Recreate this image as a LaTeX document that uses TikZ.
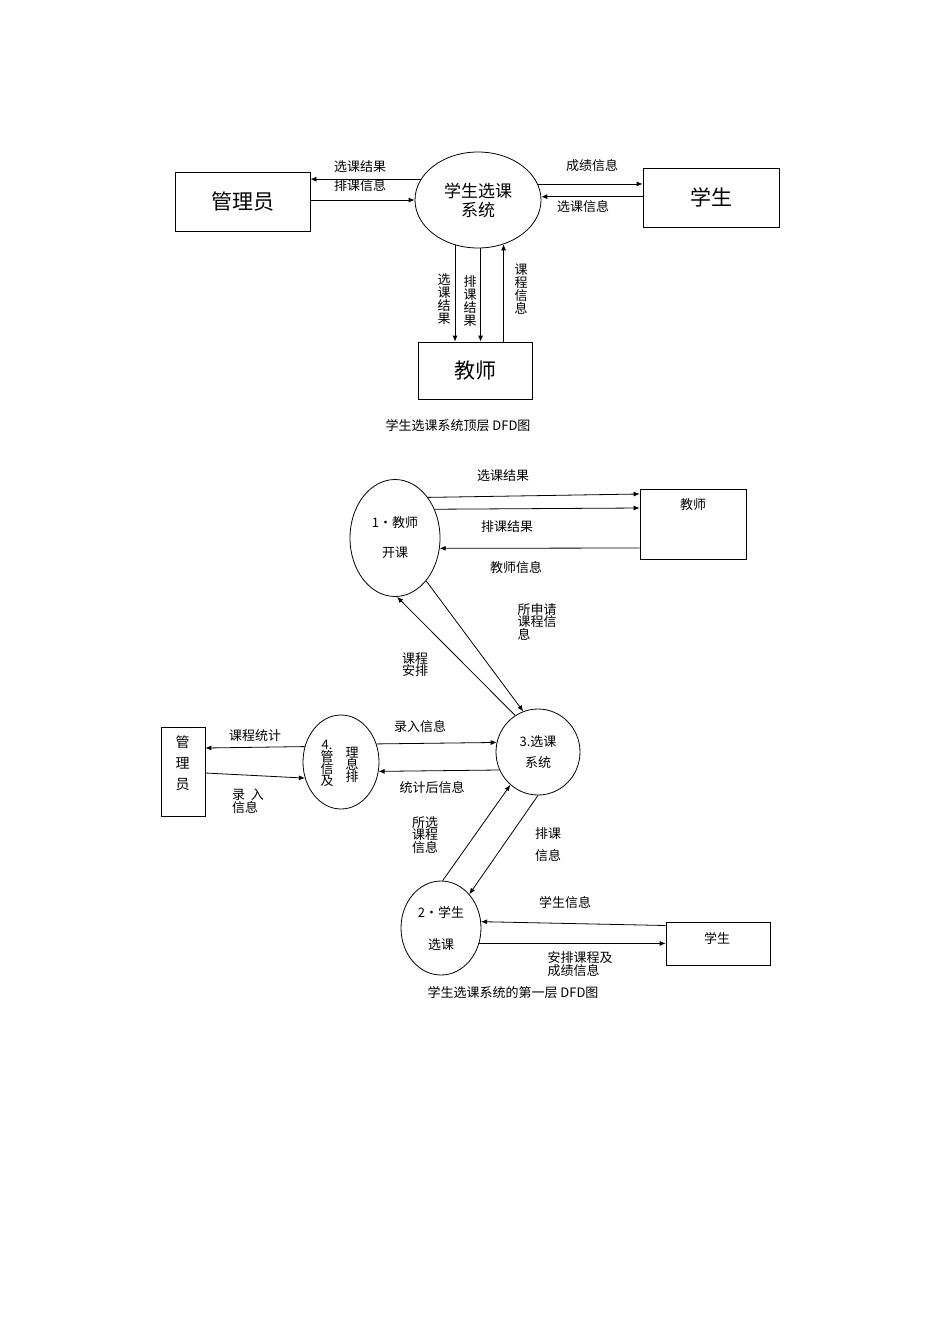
\documentclass[tikz,border=0pt]{standalone}
\usepackage{fontspec}
\setmainfont{Noto Sans CJK SC}
\usetikzlibrary{arrows.meta,shapes.geometric}
\begin{document}
\begin{tikzpicture}[x=1pt,y=-1pt,
  box/.style={draw,line width=0.8pt,inner sep=0pt},
  proc/.style={draw,ellipse,line width=0.8pt,inner sep=0pt},
  fl/.style={line width=0.8pt,-{Latex[length=6pt,width=5pt]}},
  lb/.style={font=\fontsize{13}{14}\selectfont,inner sep=0pt},
  vl/.style={font=\fontsize{13}{13}\selectfont,inner sep=0pt,align=center,text width=13pt}]
\useasboundingbox (0,0) rectangle (950,1344);
% ---- top level
\node[box,minimum width=135pt,minimum height=59pt] (gly) at (242.5,201.5) {\fontsize{21}{22}\selectfont 管理员};
\node[proc,minimum width=126pt,minimum height=96pt,align=center,font=\fontsize{17}{19}\selectfont] (sys) at (478,200) {学生选课\\系统};
\node[box,minimum width=136pt,minimum height=59pt] (stu) at (711,197.5) {\fontsize{21}{22}\selectfont 学生};
\node[box,minimum width=114pt,minimum height=57pt] (tea) at (475,370.5) {\fontsize{21}{22}\selectfont 教师};
\draw[fl] (sys.160) -- (sys.160 -| gly.east);
\draw[fl] (gly.east |- sys.180) -- (sys.180);
\draw[fl] (sys.15) -- (sys.15 -| stu.west);
\draw[fl] (stu.west |- sys.3) -- (sys.3);
\draw[fl] (sys.-117) -- (sys.-117 |- tea.north);
\draw[fl] (sys.-87) -- (sys.-87 |- tea.north);
\draw[fl] (tea.north -| sys.-60) -- (sys.-60);
\node[lb] (l1) at (360,167) {选课结果};
\node[lb] (l2) at (360,186) {排课信息};
\node[lb] (l3) at (592,166) {成绩信息};
\node[lb] (l4) at (583,207) {选课信息};
\node[vl] (l5) at (444,299) {选\\课\\结\\果};
\node[vl] (l6) at (470,301) {排\\课\\结\\果};
\node[vl] (l7) at (521,289) {课\\程\\信\\息};
\node[lb] (cap1) at (458,426) {学生选课系统顶层 DFD图};
% ---- first level
\node[proc,minimum width=90pt,minimum height=117pt,align=center,font=\fontsize{13}{30}\selectfont] (c1) at (395,538) {1·教师\\开课};
\node[box,minimum width=106pt,minimum height=70pt] (t) at (693,524) {};
\node[lb] (tl) at (693,505) {教师};
\node[proc,minimum width=84pt,minimum height=86pt,align=center,font=\fontsize{13}{21}\selectfont] (c3) at (538,752) {3.选课\\系统};
\node[proc,minimum width=76pt,minimum height=94pt] (c4) at (341,762) {};
\node[vl,font=\fontsize{13}{12}\selectfont] (c4a) at (327,763) {4.\\管\\信\\及};
\node[vl,font=\fontsize{13}{12}\selectfont] (c4b) at (352,765) {理\\息\\排};
\node[box,minimum width=44pt,minimum height=89pt] (adm) at (183,771.5) {};
\node[vl,font=\fontsize{14}{21}\selectfont] (adml) at (182,763) {管\\理\\员};
\node[proc,minimum width=80pt,minimum height=94pt,align=center,font=\fontsize{13}{32}\selectfont] (c2) at (441,928) {2·学生\\选课};
\node[box,minimum width=104pt,minimum height=43pt] (s2) at (718,943.5) {};
\node[lb] (s2l) at (717,938) {学生};
\draw[fl] (c1.51) -- ([yshift=30pt]t.west);
\draw[fl] (c1.36) -- ([yshift=16pt]t.west);
\draw[fl] ([yshift=-24pt]t.west) -- (c1.-13);
\draw[fl] (c1.-54) -- (c3.110);
\draw[fl] (c3.122) -- (c1.-88);
\draw[fl] (c4.157) -- ([yshift=23.5pt]adm.east);
\draw[fl] ([yshift=-1.5pt]adm.east) -- (c4.204);
\draw[fl] (c4.27) -- (c3.167);
\draw[fl] (c3.205) -- (c4.-14);
\draw[fl] (c2.88) -- (c3.230);
\draw[fl] (c3.-90) -- (c2.50);
\draw[fl] ([yshift=18pt]s2.west) -- (c2.9);
\draw[fl] (c2.-22) -- (c2.-22 -| s2.west);
\node[lb] (m1) at (503,476) {选课结果};
\node[lb] (m2) at (507,527) {排课结果};
\node[lb] (m3) at (516,568) {教师信息};
\node[lb,align=left,font=\fontsize{13}{12}\selectfont] (m4) at (537,622) {所申请\\课程信\\息};
\node[lb,align=left,font=\fontsize{13}{12}\selectfont] (m5) at (415,665) {课程\\安排};
\node[lb] (m6) at (255,736) {课程统计};
\node[lb,align=left,font=\fontsize{13}{12}\selectfont] (m7) at (248,801) {录\ \ 入\\信息};
\node[lb] (m8) at (420,727) {录入信息};
\node[lb] (m9) at (432,788) {统计后信息};
\node[lb,align=left,font=\fontsize{13}{12}\selectfont] (m10) at (425,835) {所选\\课程\\信息};
\node[lb,align=left,font=\fontsize{13}{22}\selectfont] (m11) at (548,845) {排课\\信息};
\node[lb] (m12) at (565,903) {学生信息};
\node[lb,align=left,font=\fontsize{13}{12}\selectfont] (m13) at (580,964) {安排课程及\\成绩信息};
\node[lb] (cap2) at (513,993) {学生选课系统的第一层 DFD图};
\end{tikzpicture}
\end{document}
